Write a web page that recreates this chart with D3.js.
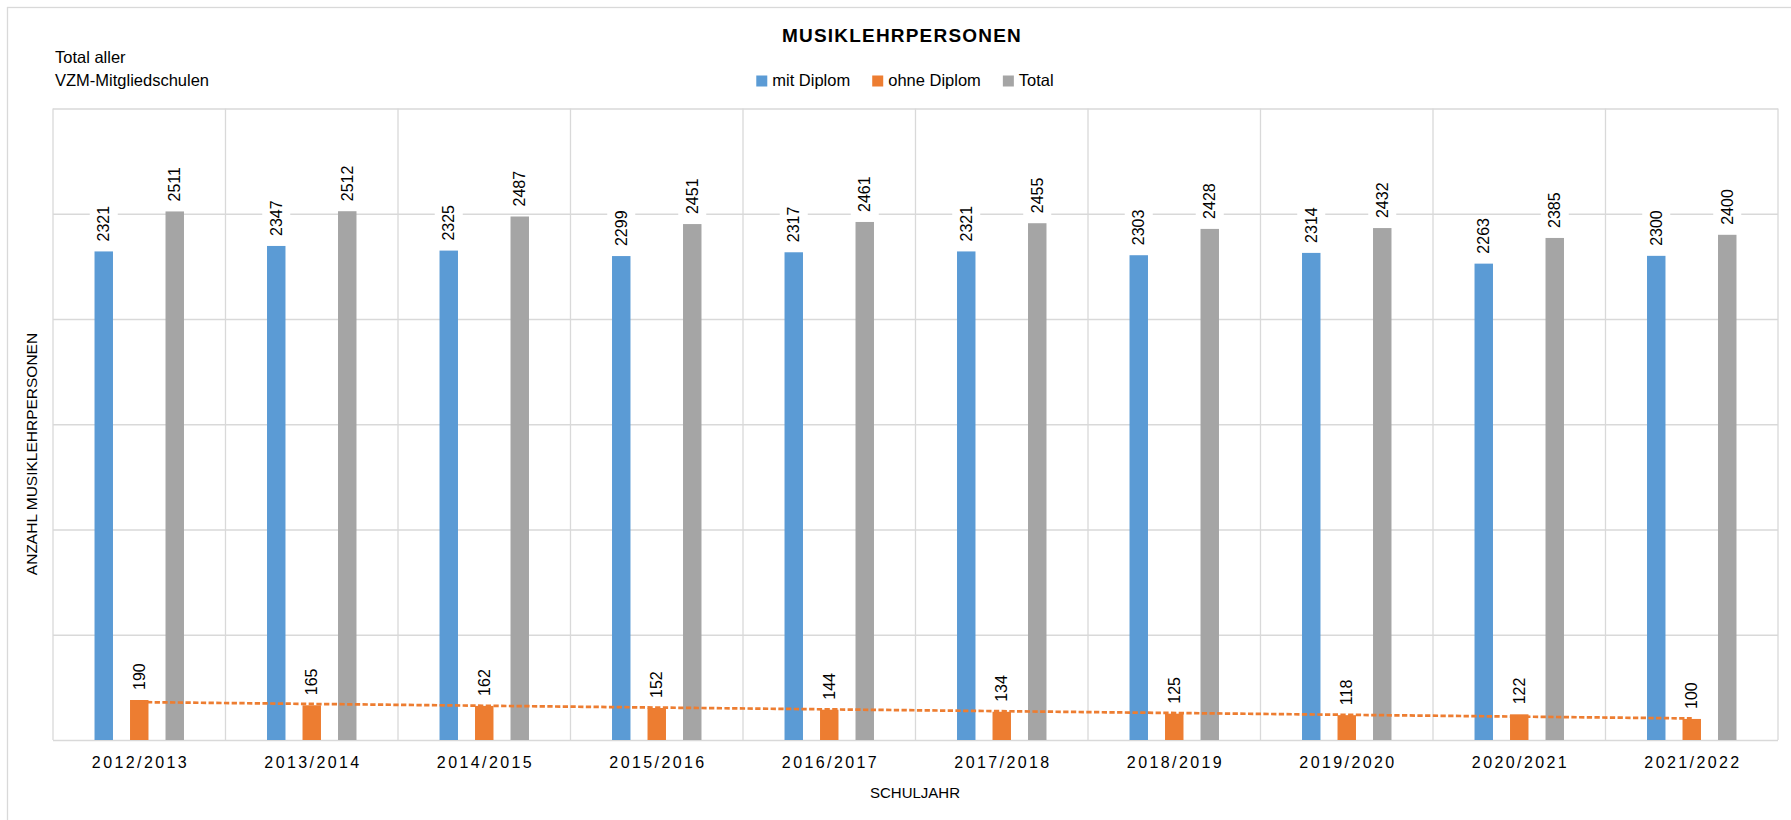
<!DOCTYPE html>
<meta charset="utf-8">
<style>
body { margin: 0; background: #fff; }
svg { font-family: "Liberation Sans", Arial, sans-serif; }
.grid line { stroke: #d9d9d9; stroke-width: 1.3; }
.grid .domain { display: none; }
.xaxis .domain { display: none; }
.xaxis text { font-size: 16px; letter-spacing: 2.4px; fill: #000; }
.val { font-size: 16px; fill: #000; }
</style>
<svg width="1791" height="820"></svg>
<script src="https://d3js.org/d3.v7.min.js"></script>
<script>

var years = ["2012/2013", "2013/2014", "2014/2015", "2015/2016", "2016/2017",
             "2017/2018", "2018/2019", "2019/2020", "2020/2021", "2021/2022"];
var seriesNames = ["mit Diplom", "ohne Diplom", "Total"];
var mitDiplom  = [2321, 2347, 2325, 2299, 2317, 2321, 2303, 2314, 2263, 2300];
var ohneDiplom = [190, 165, 162, 152, 144, 134, 125, 118, 122, 100];
var total      = [2511, 2512, 2487, 2451, 2461, 2455, 2428, 2432, 2385, 2400];
var yTicks = [0, 500, 1000, 1500, 2000, 2500, 3000];

var colors = ["#5b9bd5", "#ed7d31", "#a5a5a5"];
var values = [mitDiplom, ohneDiplom, total];

var svg = d3.select("svg"),
    width = +svg.attr("width"),
    height = +svg.attr("height");

var plot = { left: 53, right: 1778, top: 108.5, bottom: 740 };

// outer chart border (runs off the bottom/right like the original)
svg.append("rect")
    .attr("x", 7.5).attr("y", 7.5)
    .attr("width", width + 20).attr("height", height + 20)
    .attr("fill", "none").attr("stroke", "#d9d9d9").attr("stroke-width", 1.3);

var x0 = d3.scaleBand().domain(years).range([plot.left, plot.right]).padding(0);
var bw = x0.bandwidth();
var x1 = d3.scaleBand().domain(seriesNames)
    .range([bw / 2 - 53.25, bw / 2 + 53.25])
    .paddingInner(0.48).paddingOuter(0.24);
var y = d3.scaleLinear().domain([0, 3000]).range([plot.bottom, plot.top]);

// horizontal gridlines
svg.append("g")
    .attr("class", "grid")
    .attr("transform", "translate(" + plot.left + ",0)")
    .call(d3.axisLeft(y).tickValues(yTicks).tickSize(-(plot.right - plot.left)).tickFormat(""));

// vertical gridlines between categories
svg.append("g")
    .attr("class", "grid")
  .selectAll("line")
  .data(years.map(d => x0(d)).concat([plot.right]))
  .enter().append("line")
    .attr("x1", d => d).attr("x2", d => d)
    .attr("y1", plot.top).attr("y2", plot.bottom);

// bars
var rows = [];
years.forEach((yr, i) => {
  seriesNames.forEach((s, j) => {
    rows.push({ year: yr, series: s, value: values[j][i], color: colors[j] });
  });
});

svg.append("g")
  .selectAll("rect")
  .data(rows)
  .enter().append("rect")
    .attr("x", d => x0(d.year) + x1(d.series))
    .attr("y", d => y(d.value))
    .attr("width", x1.bandwidth())
    .attr("height", d => y(0) - y(d.value))
    .attr("fill", d => d.color);

// linear trendline for "ohne Diplom"
var n = ohneDiplom.length,
    mx = d3.mean(d3.range(n)),
    my = d3.mean(ohneDiplom),
    sxy = d3.sum(ohneDiplom, (v, i) => (i - mx) * (v - my)),
    sxx = d3.sum(d3.range(n), i => (i - mx) * (i - mx)),
    slope = sxy / sxx,
    icpt = my - slope * mx;

var cx = d => x0(d) + x1("ohne Diplom") + x1.bandwidth() / 2;

svg.append("line")
    .attr("x1", cx(years[0]))
    .attr("y1", y(icpt))
    .attr("x2", cx(years[n - 1]))
    .attr("y2", y(icpt + slope * (n - 1)))
    .attr("stroke", "#ed7d31")
    .attr("stroke-width", 2.7)
    .attr("stroke-dasharray", "5.3,2.4");

// value labels (rotated, white background)
var labels = svg.append("g")
  .selectAll("g")
  .data(rows)
  .enter().append("g")
    .attr("transform", d => "translate(" + (x0(d.year) + x1(d.series) + x1.bandwidth() / 2) + "," + (y(d.value) - 10) + ") rotate(-90)");

labels.append("text")
    .attr("class", "val")
    .attr("x", 0).attr("y", 0)
    .attr("dy", "0.35em")
    .text(d => d.value);

labels.insert("rect", "text")
    .attr("x", -3)
    .attr("y", -14)
    .attr("height", 28)
    .attr("width", function () {
      return this.parentNode.querySelector("text").getComputedTextLength() + 6;
    })
    .attr("fill", "#fff");

// x axis labels
var xAxis = svg.append("g")
    .attr("class", "xaxis")
    .attr("transform", "translate(0," + plot.bottom + ")")
    .call(d3.axisBottom(x0).tickSize(0).tickPadding(0));
xAxis.selectAll("text")
    .attr("y", 28)
    .attr("dy", 0)
    .attr("dx", "1.2px")
    .style("font-family", "inherit");

// axis titles
svg.append("text")
    .attr("x", 915).attr("y", 798)
    .attr("text-anchor", "middle")
    .style("font-size", "15px")
    .text("SCHULJAHR");

svg.append("text")
    .attr("transform", "translate(37,454) rotate(-90)")
    .attr("text-anchor", "middle")
    .style("font-size", "15.5px")
    .text("ANZAHL MUSIKLEHRPERSONEN");

// chart title
svg.append("text")
    .attr("x", 902).attr("y", 42)
    .attr("text-anchor", "middle")
    .style("font-size", "19px")
    .style("font-weight", "bold")
    .style("letter-spacing", "1.2px")
    .text("MUSIKLEHRPERSONEN");

// subtitle at top left
svg.append("text")
    .attr("x", 55).attr("y", 63)
    .style("font-size", "16.5px")
    .text("Total aller");
svg.append("text")
    .attr("x", 55).attr("y", 86)
    .style("font-size", "16.5px")
    .text("VZM-Mitgliedschulen");

// legend
var legend = svg.append("g");
var lx = 0;
seriesNames.forEach((s, j) => {
  var item = legend.append("g").attr("transform", "translate(" + lx + ",0)");
  item.append("rect")
      .attr("x", 0).attr("y", -10.5)
      .attr("width", 11).attr("height", 11)
      .attr("fill", colors[j]);
  var t = item.append("text")
      .attr("x", 16).attr("y", 0)
      .style("font-size", "16.5px")
      .text(s);
  lx += 16 + t.node().getComputedTextLength() + 22;
});
lx -= 22;
legend.attr("transform", "translate(" + (905 - lx / 2) + ",86)");

</script>
